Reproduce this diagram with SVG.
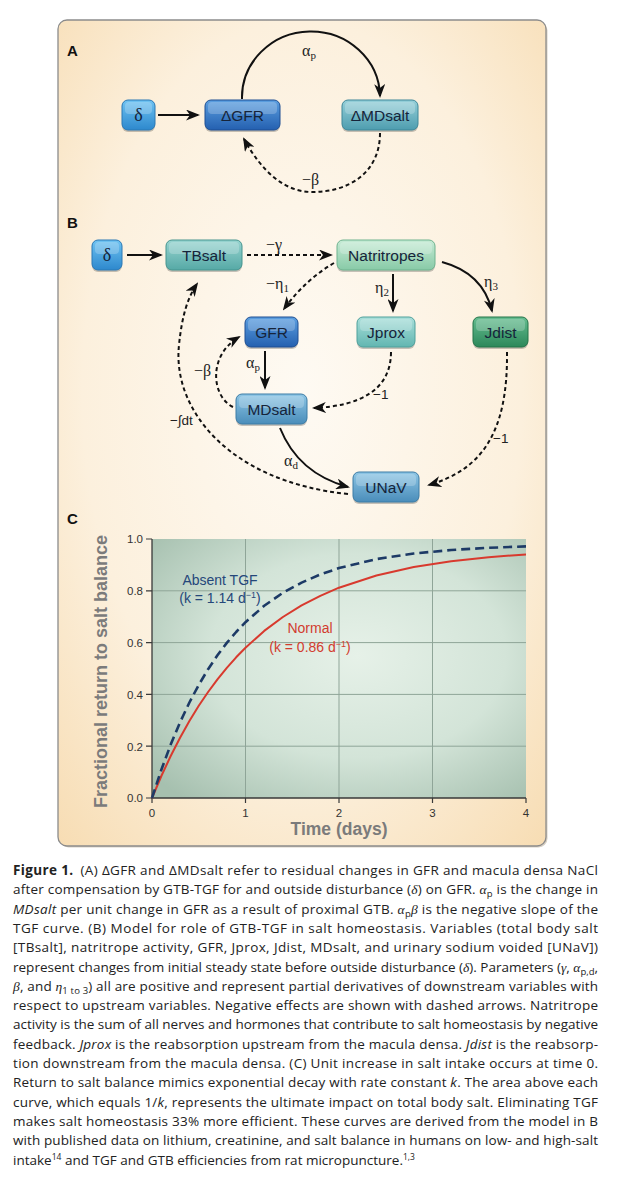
<svg xmlns="http://www.w3.org/2000/svg" width="624" height="1200" viewBox="0 0 624 1200">
<defs>
<style>
.nt{font-family:"Liberation Sans",Arial,sans-serif;font-size:15.5px;fill:#16243a;text-anchor:middle}
.ntg{font-family:"Liberation Serif","Times New Roman",serif;font-size:18px;fill:#16243a;text-anchor:middle}
.sol{fill:none;stroke:#111;stroke-width:2;marker-end:url(#ah)}
.dsh{fill:none;stroke:#111;stroke-width:2;stroke-dasharray:4 3;marker-end:url(#ah)}
.gl{font-family:"Liberation Serif","Times New Roman",serif;font-size:16px;fill:#222}
.sl{font-family:"Liberation Sans",Arial,sans-serif;font-size:13.5px;fill:#222}
.pl{font-family:"Liberation Sans",Arial,sans-serif;font-weight:bold;font-size:15px;fill:#111}
.tk{font-family:"Liberation Sans",Arial,sans-serif;font-size:11.5px;fill:#333}
.ax{font-family:"Liberation Sans",Arial,sans-serif;font-weight:bold;font-size:17.5px;fill:#7b7b7b}
.cap{font-family:"Open Sans","Liberation Sans",sans-serif;font-size:13.5px;fill:#222}
.gi{font-family:"Liberation Serif","Times New Roman",serif;font-style:italic}
.grid{stroke:#8fa598;stroke-width:1;fill:none}
.shd{fill:#000;opacity:0.22}
.hl{fill:#fff;opacity:0.22}
</style>
<marker id="ah" viewBox="0 0 14 11" refX="12" refY="5.5" markerWidth="14" markerHeight="11" markerUnits="userSpaceOnUse" orient="auto">
<path d="M0,0 L14,5.5 L0,11 L4,5.5 Z" fill="#111"/>
</marker>
<radialGradient id="panelBg" cx="0.5" cy="0.45" r="0.75">
<stop offset="0" stop-color="#fefaf3"/>
<stop offset="0.6" stop-color="#fcf0dd"/>
<stop offset="1" stop-color="#f7dcb2"/>
</radialGradient>
<radialGradient id="plotBg" cx="0.55" cy="0.45" r="0.72">
<stop offset="0" stop-color="#e6f1e8"/>
<stop offset="0.55" stop-color="#d3e4d8"/>
<stop offset="1" stop-color="#a6c0af"/>
</radialGradient>
<linearGradient id="gDelta" x1="0" y1="0" x2="0" y2="1"><stop offset="0" stop-color="#6fc3f2"/><stop offset="1" stop-color="#2d88cd"/></linearGradient>
<linearGradient id="gGFR" x1="0" y1="0" x2="0" y2="1"><stop offset="0" stop-color="#5c9fe0"/><stop offset="1" stop-color="#2460b0"/></linearGradient>
<linearGradient id="gMDa" x1="0" y1="0" x2="0" y2="1"><stop offset="0" stop-color="#96d0d9"/><stop offset="1" stop-color="#4e9daf"/></linearGradient>
<linearGradient id="gMD" x1="0" y1="0" x2="0" y2="1"><stop offset="0" stop-color="#8ec6e5"/><stop offset="1" stop-color="#4a8dba"/></linearGradient>
<linearGradient id="gTB" x1="0" y1="0" x2="0" y2="1"><stop offset="0" stop-color="#98d4d0"/><stop offset="1" stop-color="#56a9a6"/></linearGradient>
<linearGradient id="gNat" x1="0" y1="0" x2="0" y2="1"><stop offset="0" stop-color="#c6ebd5"/><stop offset="1" stop-color="#88caa7"/></linearGradient>
<linearGradient id="gJp" x1="0" y1="0" x2="0" y2="1"><stop offset="0" stop-color="#aadfda"/><stop offset="1" stop-color="#62b6b1"/></linearGradient>
<linearGradient id="gJd" x1="0" y1="0" x2="0" y2="1"><stop offset="0" stop-color="#66bd90"/><stop offset="1" stop-color="#2c885a"/></linearGradient>
</defs>

<rect x="0" y="0" width="624" height="1200" fill="#fff"/>
<rect x="59.5" y="21.5" width="488" height="826" rx="9" fill="#d8d0c4"/>
<rect x="58" y="20" width="488" height="826" rx="9" fill="url(#panelBg)" stroke="#8c8c8c" stroke-width="1.3"/>

<text class="pl" x="67" y="56">A</text>
<text class="pl" x="67" y="228">B</text>
<text class="pl" x="67" y="524">C</text>

<g id="connectors">
<path class="sol" d="M158,115 L198,115"/>
<path class="sol" d="M242,99 A69,66 0 0 1 380,96"/>
<path class="dsh" d="M380,133 C380,172 350,192 312,192 C285,192 262,172 244,139"/>
<path class="sol" d="M127,255 L161,255"/>
<path class="dsh" d="M247,255 L331,255"/>
<path class="sol" d="M393,274 L393,311"/>
<path class="sol" d="M442,262 Q483,273 492,311"/>
<path class="dsh" d="M334,263 Q305,280 284,309"/>
<path class="sol" d="M265,351 L265,388"/>
<path class="dsh" d="M233,407 C212,397 207,356 239,337"/>
<path class="dsh" d="M391,352 C391,390 360,406 314,408"/>
<path class="sol" d="M280,428 C292,458 315,478 348,487"/>
<path class="dsh" d="M507,352 C508,435 480,470 429,485"/>
<path class="dsh" d="M348,494 C230,482 172,410 179,345 C182,315 188,297 197,284"/>
<g id="edge-labels">
<text class="gl" x="302" y="56">α<tspan font-size="11" dy="3">p</tspan></text>
<text class="gl" x="302" y="185">−β</text>
<text class="gl" x="266" y="250">−γ</text>
<text class="gl" x="266" y="289">−η<tspan font-size="11" dy="3">1</tspan></text>
<text class="gl" x="375" y="293">η<tspan font-size="11" dy="3">2</tspan></text>
<text class="gl" x="484" y="287">η<tspan font-size="11" dy="3">3</tspan></text>
<text class="gl" x="246" y="368">α<tspan font-size="11" dy="3">p</tspan></text>
<text class="gl" x="194" y="376">−β</text>
<text class="sl" x="373" y="399">−1</text>
<text class="sl" x="170" y="425">−∫dt</text>
<text class="gl" x="284" y="466">α<tspan font-size="11" dy="3">d</tspan></text>
<text class="sl" x="493" y="443">−1</text>
</g>
</g>

<g id="A-delta"><rect class="shd" x="122" y="102" width="33" height="30" rx="6"/><rect x="122" y="100" width="33" height="30" rx="6" fill="url(#gDelta)" stroke="#2a78b5"/><rect class="hl" x="125" y="102" width="27" height="12" rx="4"/><text class="ntg" x="138.5" y="121">δ</text></g>
<g id="A-dGFR"><rect class="shd" x="205" y="102" width="75" height="30" rx="6"/><rect x="205" y="100" width="75" height="30" rx="6" fill="url(#gGFR)" stroke="#1f4f93"/><rect class="hl" x="208" y="102" width="69" height="12" rx="4"/><text class="nt" x="242.5" y="121">ΔGFR</text></g>
<g id="A-dMDsalt"><rect class="shd" x="342" y="102" width="76" height="30" rx="6"/><rect x="342" y="100" width="76" height="30" rx="6" fill="url(#gMDa)" stroke="#3e8799"/><rect class="hl" x="345" y="102" width="70" height="12" rx="4"/><text class="nt" x="380" y="121">ΔMDsalt</text></g>

<g id="B-delta"><rect class="shd" x="92" y="242" width="30" height="30" rx="6"/><rect x="92" y="240" width="30" height="30" rx="6" fill="url(#gDelta)" stroke="#2a78b5"/><rect class="hl" x="95" y="242" width="24" height="12" rx="4"/><text class="ntg" x="107" y="261">δ</text></g>
<g id="B-TBsalt"><rect class="shd" x="166" y="242" width="76" height="30" rx="6"/><rect x="166" y="240" width="76" height="30" rx="6" fill="url(#gTB)" stroke="#46958f"/><rect class="hl" x="169" y="242" width="70" height="12" rx="4"/><text class="nt" x="204" y="261">TBsalt</text></g>
<g id="B-Natritropes"><rect class="shd" x="337" y="242" width="98" height="30" rx="6"/><rect x="337" y="240" width="98" height="30" rx="6" fill="url(#gNat)" stroke="#6fb38f"/><rect class="hl" x="340" y="242" width="92" height="12" rx="4"/><text class="nt" x="386" y="261">Natritropes</text></g>
<g id="B-GFR"><rect class="shd" x="245" y="319" width="53" height="30" rx="6"/><rect x="245" y="317" width="53" height="30" rx="6" fill="url(#gGFR)" stroke="#1f4f93"/><rect class="hl" x="248" y="319" width="47" height="12" rx="4"/><text class="nt" x="271.5" y="338">GFR</text></g>
<g id="B-Jprox"><rect class="shd" x="357" y="319" width="58" height="30" rx="6"/><rect x="357" y="317" width="58" height="30" rx="6" fill="url(#gJp)" stroke="#4fa19c"/><rect class="hl" x="360" y="319" width="52" height="12" rx="4"/><text class="nt" x="386" y="338">Jprox</text></g>
<g id="B-Jdist"><rect class="shd" x="473" y="319" width="55" height="30" rx="6"/><rect x="473" y="317" width="55" height="30" rx="6" fill="url(#gJd)" stroke="#237449"/><rect class="hl" x="476" y="319" width="49" height="12" rx="4"/><text class="nt" x="500.5" y="338">Jdist</text></g>
<g id="B-MDsalt"><rect class="shd" x="236" y="396" width="71" height="30" rx="6"/><rect x="236" y="394" width="71" height="30" rx="6" fill="url(#gMD)" stroke="#3c7ca6"/><rect class="hl" x="239" y="396" width="65" height="12" rx="4"/><text class="nt" x="271.5" y="415">MDsalt</text></g>
<g id="B-UNaV"><rect class="shd" x="353" y="474" width="66" height="30" rx="6"/><rect x="353" y="472" width="66" height="30" rx="6" fill="url(#gMD)" stroke="#3c7ca6"/><rect class="hl" x="356" y="474" width="60" height="12" rx="4"/><text class="nt" x="386" y="493">UNaV</text></g>

<g id="plot">
<rect x="152" y="539" width="374" height="259" fill="url(#plotBg)"/>
<path class="grid" d="M245.5,539 V798 M339,539 V798 M432.5,539 V798 M152,746.2 H526 M152,694.4 H526 M152,642.6 H526 M152,590.8 H526"/>
<path d="M152,539 V798 H526" fill="none" stroke="#3a3a3a" stroke-width="1.3"/>
<path d="M146,539 H152 M146,590.8 H152 M146,642.6 H152 M146,694.4 H152 M146,746.2 H152 M146,798 H152 M152,798 V803 M245.5,798 V803 M339,798 V803 M432.5,798 V803 M526,798 V803" stroke="#3a3a3a" stroke-width="1.2"/>
<g class="tk" text-anchor="end">
<text x="143" y="543">1.0</text><text x="143" y="595">0.8</text><text x="143" y="647">0.6</text><text x="143" y="698.5">0.4</text><text x="143" y="750.5">0.2</text><text x="143" y="802">0.0</text>
</g>
<g class="tk" text-anchor="middle">
<text x="152" y="817">0</text><text x="245.5" y="817">1</text><text x="339" y="817">2</text><text x="432.5" y="817">3</text><text x="526" y="817">4</text>
</g>
<text class="ax" x="339" y="835" text-anchor="middle">Time (days)</text>
<text class="ax" transform="translate(107,671.5) rotate(-90)" text-anchor="middle" textLength="273" lengthAdjust="spacingAndGlyphs">Fractional return to salt balance</text>
<path d="M152,798 L161.35,776 L170.7,756 L180.05,737.7 L189.4,721 L198.75,705.8 L208.1,692 L217.45,679.3 L226.8,667.8 L236.15,657.3 L245.5,647.7 L264.2,630.9 L282.9,617 L301.6,605.4 L320.3,595.8 L339,587.7 L376.4,575.5 L413.8,567.1 L451.2,561.2 L488.6,557.2 L526,554.4" fill="none" stroke="#d83a2e" stroke-width="2" stroke-linejoin="round"/>
<path d="M152,798 L161.35,769.7 L170.7,744.6 L180.05,722.3 L189.4,702.5 L198.75,684.9 L208.1,669.2 L217.45,655.3 L226.8,642.9 L236.15,632 L245.5,622.2 L264.2,605.8 L282.9,592.8 L301.6,582.6 L320.3,574.5 L339,568.1 L376.4,559.1 L413.8,553.5 L451.2,550 L488.6,547.8 L526,546.4" fill="none" stroke="#1d3a66" stroke-width="2.6" stroke-dasharray="9 5" stroke-linejoin="round"/>
<g font-family="Liberation Sans, Arial, sans-serif" font-size="14" text-anchor="middle">
<text x="220" y="585" fill="#25477a">Absent TGF</text>
<text x="220" y="603" fill="#25477a">(k = 1.14 d<tspan font-size="9" dy="-5">−1</tspan><tspan dy="5">)</tspan></text>
<text x="310" y="633" fill="#d23c2f">Normal</text>
<text x="310" y="652" fill="#d23c2f">(k = 0.86 d<tspan font-size="9" dy="-5">−1</tspan><tspan dy="5">)</tspan></text>
</g>
</g>

<g id="caption" class="cap">
<text x="13" y="875" textLength="585" lengthAdjust="spacing"><tspan font-weight="bold">Figure 1.</tspan><tspan dx="7">(A) ΔGFR and ΔMDsalt refer to residual changes in GFR and macula densa NaCl</tspan></text>
<text x="13" y="894.3" textLength="585" lengthAdjust="spacing">after compensation by GTB-TGF for and outside disturbance (<tspan class="gi">δ</tspan>) on GFR. <tspan class="gi">α</tspan><tspan font-size="9.5" dy="3">p</tspan><tspan dy="-3"> is the change in</tspan></text>
<text x="13" y="913.6" textLength="585" lengthAdjust="spacing"><tspan font-style="italic">MDsalt</tspan> per unit change in GFR as a result of proximal GTB. <tspan class="gi">α</tspan><tspan font-size="9.5" dy="3">p</tspan><tspan class="gi" dy="-3">β</tspan> is the negative slope of the</text>
<text x="13" y="932.9" textLength="585" lengthAdjust="spacing">TGF curve. (B) Model for role of GTB-TGF in salt homeostasis. Variables (total body salt</text>
<text x="13" y="952.2" textLength="585" lengthAdjust="spacing">[TBsalt], natritrope activity, GFR, Jprox, Jdist, MDsalt, and urinary sodium voided [UNaV])</text>
<text x="13" y="971.5" textLength="585" lengthAdjust="spacing">represent changes from initial steady state before outside disturbance (<tspan class="gi">δ</tspan>). Parameters (<tspan class="gi">γ</tspan>, <tspan class="gi">α</tspan><tspan font-size="9.5" dy="3">p,d</tspan><tspan dy="-3">,</tspan></text>
<text x="13" y="990.8" textLength="585" lengthAdjust="spacing"><tspan class="gi">β</tspan>, and <tspan class="gi">η</tspan><tspan font-size="9.5" dy="3">1 to 3</tspan><tspan dy="-3">) all are positive and represent partial derivatives of downstream variables with</tspan></text>
<text x="13" y="1010.1" textLength="585" lengthAdjust="spacing">respect to upstream variables. Negative effects are shown with dashed arrows. Natritrope</text>
<text x="13" y="1029.4" textLength="585" lengthAdjust="spacing">activity is the sum of all nerves and hormones that contribute to salt homeostasis by negative</text>
<text x="13" y="1048.7" textLength="585" lengthAdjust="spacing">feedback. <tspan font-style="italic">Jprox</tspan> is the reabsorption upstream from the macula densa. <tspan font-style="italic">Jdist</tspan> is the reabsorp-</text>
<text x="13" y="1068" textLength="585" lengthAdjust="spacing">tion downstream from the macula densa. (C) Unit increase in salt intake occurs at time 0.</text>
<text x="13" y="1087.3" textLength="585" lengthAdjust="spacing">Return to salt balance mimics exponential decay with rate constant <tspan font-style="italic">k</tspan>. The area above each</text>
<text x="13" y="1106.6" textLength="585" lengthAdjust="spacing">curve, which equals 1/<tspan font-style="italic">k</tspan>, represents the ultimate impact on total body salt. Eliminating TGF</text>
<text x="13" y="1125.9" textLength="585" lengthAdjust="spacing">makes salt homeostasis 33% more efficient. These curves are derived from the model in B</text>
<text x="13" y="1145.2" textLength="585" lengthAdjust="spacing">with published data on lithium, creatinine, and salt balance in humans on low- and high-salt</text>
<text x="13" y="1164.5">intake<tspan font-size="8.5" dy="-5">14</tspan><tspan dy="5"> and TGF and GTB efficiencies from rat micropuncture.</tspan><tspan font-size="8.5" dy="-5">1,3</tspan></text>
</g>
</svg>
